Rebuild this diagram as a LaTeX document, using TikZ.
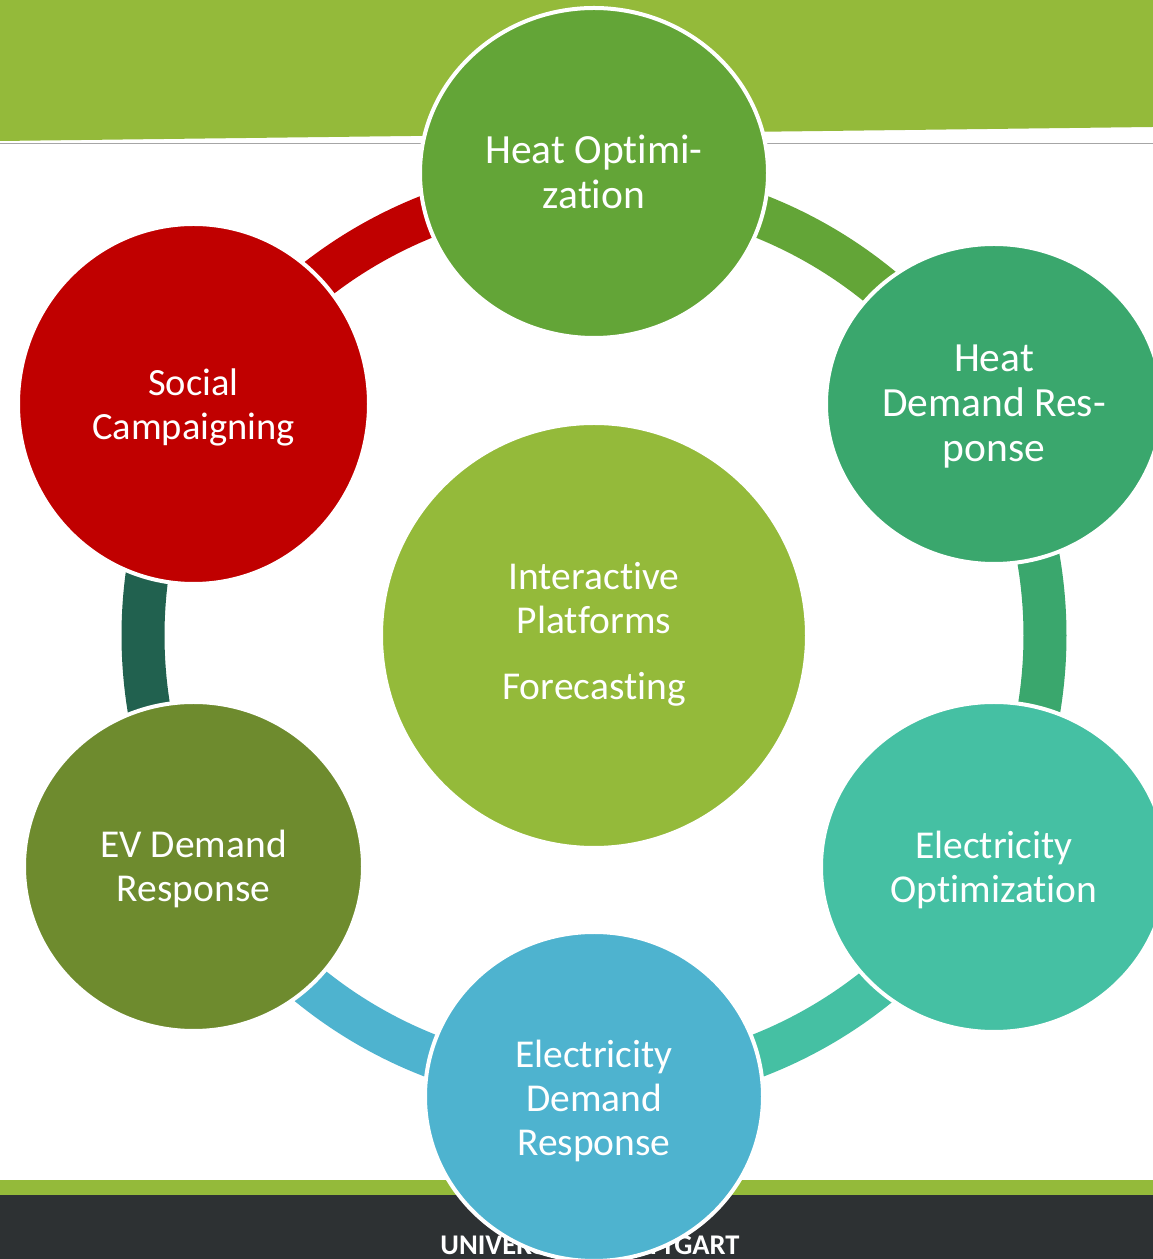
\documentclass[tikz,border=0pt]{standalone}
\usepackage{fontspec}
\setmainfont{Carlito}[Ligatures={NoCommon,NoContextual}]
\usetikzlibrary{shapes.geometric}

\definecolor{limegreen}{HTML}{94BA3A}
\definecolor{heatopt}{HTML}{63A537}
\definecolor{heatdr}{HTML}{3AA76D}
\definecolor{elecopt}{HTML}{45C0A3}
\definecolor{elecdr}{HTML}{4EB3CF}
\definecolor{evdr}{HTML}{6E8B2E}
\definecolor{social}{HTML}{C00000}
\definecolor{darkteal}{HTML}{21614F}
\definecolor{footdark}{HTML}{2D3133}
\definecolor{ruleline}{HTML}{A6A6A6}

% taller strut for the first line, so the label sits a little low in its disc
\newcommand\headstrut{\vrule width 0pt height 39.5pt depth 0pt}

\pgfdeclarelayer{bg}
\pgfdeclarelayer{ring}
\pgfsetlayers{bg,ring,main}

\begin{document}
\begin{tikzpicture}[x=1pt,y=1pt,
  bubble/.style={ellipse, draw=white, line width=4pt, inner sep=0pt,
    text=white, align=center, font=\fontsize{39.5}{44}\selectfont},
  bigtext/.style={font=\fontsize{41.5}{45}\selectfont},
  ringarc/.style={line width=43pt}]

\useasboundingbox (0,0) rectangle (1153,1259);

% page decoration: header band, rule, footer bars
\begin{pgfonlayer}{bg}
  \fill[white] (0,0) rectangle (1153,1259);
  \fill[limegreen] (0,1259) -- (1153,1259) -- (1153,1132) -- (0,1118) -- cycle;
  \draw[ruleline, line width=1.5pt] (0,1115.5) -- (1153,1115.5);
  \fill[limegreen] (0,64) rectangle (1153,79);
  \fill[footdark] (0,0) rectangle (1153,64);
  \node[anchor=base, text=white, inner sep=0pt,
        font=\fontsize{28.5}{32}\selectfont\bfseries] (footer) at (590,5)
        {UNIVERSITÄT STUTTGART};
\end{pgfonlayer}

% central hub
\node[bubble, fill=limegreen, minimum width=426pt, minimum height=425pt] (hub)
  at (594,623.5) {\strut Interactive\\Platforms\\[22pt]Forecasting\strut};

% surrounding topics
\node[bubble, bigtext, fill=heatopt, minimum width=348pt, minimum height=330pt]
  (heatoptnode) at (594,1086) {\headstrut Heat Optimi-\\zation\strut};
\node[bubble, bigtext, fill=heatdr, minimum width=336pt, minimum height=320pt]
  (heatdrnode) at (994,855) {\headstrut Heat\\Demand Res-\\ponse\strut};
\node[bubble, fill=elecopt, minimum width=346pt, minimum height=330pt]
  (elecoptnode) at (994,392) {\headstrut Electricity\\Optimization\strut};
\node[bubble, fill=elecdr, minimum width=338pt, minimum height=329pt]
  (elecdrnode) at (594,162.5) {\vrule width 0pt height 43.5pt depth 0pt Electricity\\Demand\\Response\strut};
\node[bubble, fill=evdr, minimum width=339pt, minimum height=329pt]
  (evdrnode) at (193.5,392.5) {\headstrut EV Demand\\Response\strut};
\node[bubble, fill=social, minimum width=351pt, minimum height=360pt,
      font=\fontsize{38.5}{44}\selectfont]
  (socialnode) at (193.5,855) {\headstrut Social\\Campaigning\strut};

% ring segments linking the topics
\begin{pgfonlayer}{ring}
  \draw[ringarc, social]   ([shift={(90:451)}]hub.center)  arc[start angle=90,  end angle=150, radius=451];
  \draw[ringarc, heatopt]  ([shift={(30:451)}]hub.center)  arc[start angle=30,  end angle=90,  radius=451];
  \draw[ringarc, heatdr]   ([shift={(-30:451)}]hub.center) arc[start angle=-30, end angle=30,  radius=451];
  \draw[ringarc, elecopt]  ([shift={(-90:451)}]hub.center) arc[start angle=-90, end angle=-30, radius=451];
  \draw[ringarc, elecdr]   ([shift={(210:451)}]hub.center) arc[start angle=210, end angle=270, radius=451];
  \draw[ringarc, darkteal] ([shift={(150:451)}]hub.center) arc[start angle=150, end angle=210, radius=451];
\end{pgfonlayer}

\end{tikzpicture}
\end{document}
